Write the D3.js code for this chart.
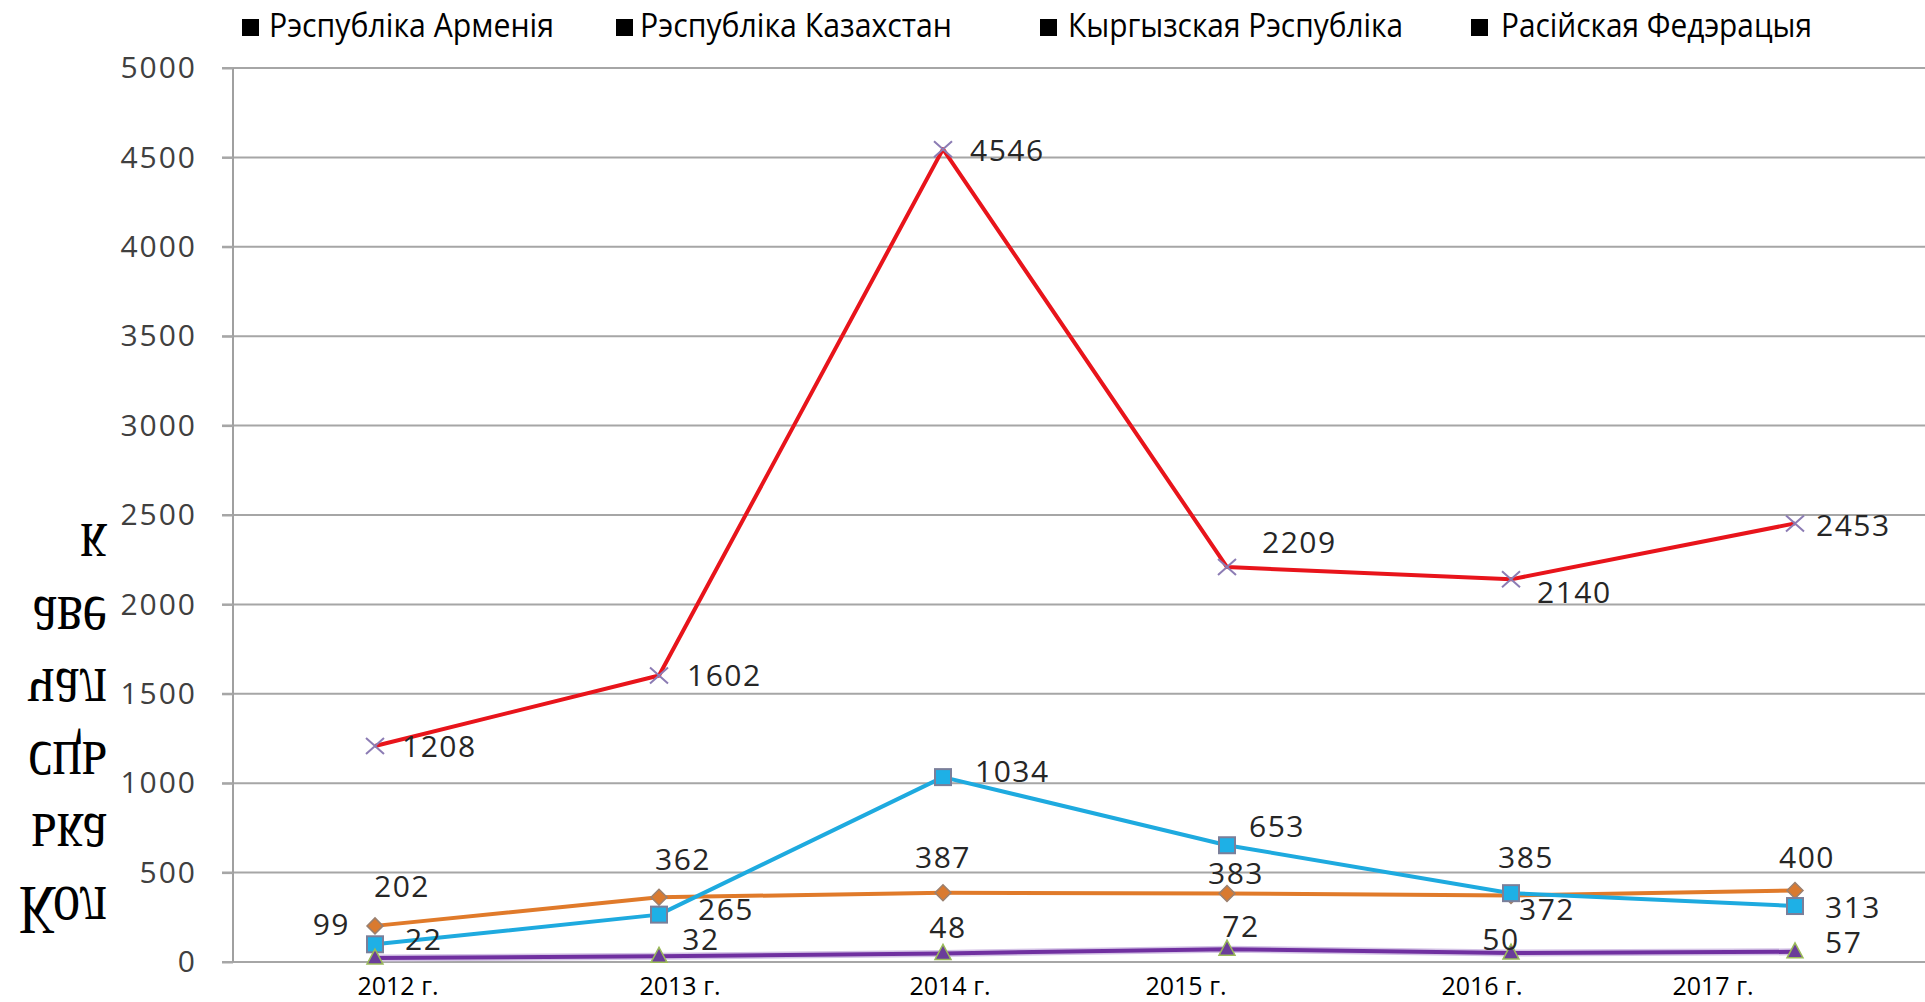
<!DOCTYPE html>
<html><head><meta charset="utf-8">
<script src="https://cdn.jsdelivr.net/npm/d3@7"></script>
<style>html,body{margin:0;padding:0;background:#fff;overflow:hidden}</style>
</head><body>
<svg id="c" width="1925" height="1002"></svg>
<script>
// ---- data ----
const years = ["2012 г.", "2013 г.", "2014 г.", "2015 г.", "2016 г.", "2017 г."];
const armenia    = [202, 362, 387, 383, 372, 400];
const kazakhstan = [99, 265, 1034, 653, 385, 313];
const kyrgyz     = [22, 32, 48, 72, 50, 57];
const russia     = [1208, 1602, 4546, 2209, 2140, 2453];
const yTicks = [0, 500, 1000, 1500, 2000, 2500, 3000, 3500, 4000, 4500, 5000];
const legendLabels = ["Рэспубліка Арменія", "Рэспубліка Казахстан", "Кыргызская Рэспубліка", "Расійская Федэрацыя"];
const yTitleLines = ["Кол", "ька", "сць", "чал", "аве", "к"];

// ---- layout (not data) ----
const L = {left: 233, top: 68, bottom: 962, bandRight: 1937};
const xLabelDx = [23, 21, 7, -41, -29, -82];
const legendX = [242, 616, 1040, 1471];
const legendTextX = [269, 640, 1068, 1501];
const legendW = [285, 312, 335, 311];
// label offsets per series: [dx, dy, anchor]
const offArm = [[27,-29,"middle"],[24,-27,"middle"],[0,-25,"middle"],[9,-10,"middle"],[8,25,"start"],[12,-22,"middle"]];
const offKaz = [[-25,-9,"end"],[39,5,"start"],[32,5,"start"],[22,-8,"start"],[15,-25,"middle"],[30,12,"start"]];
const offKyr = [[30,-8,"start"],[42,-6,"middle"],[5,-15,"middle"],[14,-12,"middle"],[-10,-3,"middle"],[30,1,"start"]];
const offRus = [[27,11,"start"],[28,10,"start"],[27,12,"start"],[35,-14,"start"],[26,24,"start"],[21,13,"start"]];

const svg = d3.select("#c");
const x = d3.scaleBand().domain(years).range([L.left, L.bandRight]);
const cx = d => x(d) + x.bandwidth() / 2;
const y = d3.scaleLinear().domain([0, 5000]).range([L.bottom, L.top]);

// gridlines
svg.append("g").selectAll("line").data(yTicks).join("line")
  .attr("x1", L.left - 11).attr("x2", 1925)
  .attr("y1", d => y(d)).attr("y2", d => y(d))
  .attr("stroke", "#a6a6a6").attr("stroke-width", 2);

// y axis
const ya = svg.append("g").attr("transform", `translate(${L.left},0)`)
  .call(d3.axisLeft(y).tickValues(yTicks).tickSize(11).tickPadding(25).tickFormat(d3.format("d")));
ya.select(".domain").attr("stroke", "#a0a0a0").attr("stroke-width", 2).attr("d", `M0,${L.top}V${L.bottom}`);
ya.selectAll(".tick line").attr("stroke", "#a6a6a6").attr("stroke-width", 2);
ya.selectAll(".tick text").attr("font-family", "'Open Sans', sans-serif").attr("font-size", 30)
  .attr("letter-spacing", 2).attr("fill", "#404040");

// x axis labels
const xa = svg.append("g").attr("transform", `translate(0,${L.bottom})`)
  .call(d3.axisBottom(x).tickSize(0).tickPadding(0));
xa.select(".domain").remove();
xa.selectAll(".tick text")
  .attr("font-family", "'Open Sans', sans-serif").attr("font-size", 25).attr("fill", "#000")
  .attr("dy", null).attr("y", 33)
  .attr("dx", (d, i) => xLabelDx[i]);

// series
const series = [
  {vals: armenia, color: "#e07a2a", w: 4, marker: "diamond", fill: "#d97a30", stroke: "#9a8070", off: offArm},
  {vals: kazakhstan, color: "#1eaadf", w: 4, marker: "square", fill: "#1eb0e6", stroke: "#7a7f9a", off: offKaz},
  {vals: kyrgyz, color: "#7030a0", w: 4, marker: "triangle", fill: "#6a3d9a", stroke: "#9bbb59", off: offKyr, halo: "#d4c3e6"},
  {vals: russia, color: "#e8141b", w: 4, marker: "cross", fill: "none", stroke: "#8c7cb4", off: offRus}
];
const line = d3.line().x((d, i) => cx(years[i])).y(d => y(d));

series.forEach(s => {
  if (s.halo) svg.append("path").datum(s.vals).attr("d", line).attr("fill", "none")
    .attr("stroke", s.halo).attr("stroke-width", s.w + 3);
  svg.append("path").datum(s.vals).attr("d", line).attr("fill", "none")
    .attr("stroke", s.color).attr("stroke-width", s.w).attr("stroke-linejoin", "round");
});
series.forEach(s => {
  const g = svg.append("g");
  s.vals.forEach((v, i) => {
    const px = cx(years[i]), py = y(v);
    if (s.marker === "square") {
      g.append("rect").attr("x", px - 8).attr("y", py - 8).attr("width", 16).attr("height", 16)
        .attr("fill", s.fill).attr("stroke", s.stroke).attr("stroke-width", 2);
    } else if (s.marker === "diamond") {
      g.append("path").attr("d", `M${px},${py-8}L${px+8},${py}L${px},${py+8}L${px-8},${py}Z`)
        .attr("fill", s.fill).attr("stroke", s.stroke).attr("stroke-width", 1.5);
    } else if (s.marker === "triangle") {
      g.append("path").attr("d", `M${px},${py-9}L${px+8},${py+6}L${px-8},${py+6}Z`)
        .attr("fill", s.fill).attr("stroke", s.stroke).attr("stroke-width", 1.5);
    } else {
      g.append("path").attr("d", `M${px-9},${py-8}L${px+9},${py+8}M${px-9},${py+8}L${px+9},${py-8}`)
        .attr("stroke", s.stroke).attr("stroke-width", 2);
    }
  });
});
// data labels
series.forEach(s => {
  svg.append("g").selectAll("text").data(s.vals).join("text")
    .attr("x", (d, i) => cx(years[i]) + s.off[i][0])
    .attr("y", (d, i) => y(d) + s.off[i][1])
    .attr("text-anchor", (d, i) => s.off[i][2])
    .attr("font-family", "'Open Sans', sans-serif").attr("font-size", 30).attr("letter-spacing", 1.5)
    .attr("fill", "#262626")
    .text(d => d);
});

// legend
const lg = svg.append("g");
legendLabels.forEach((t, i) => {
  lg.append("rect").attr("x", legendX[i]).attr("y", 19).attr("width", 17).attr("height", 17).attr("fill", "#000");
  lg.append("text").attr("x", legendTextX[i]).attr("y", 37)
    .attr("font-family", "'Open Sans', sans-serif").attr("font-size", 32).attr("fill", "#000")
    .attr("textLength", legendW[i]).attr("lengthAdjust", "spacingAndGlyphs").text(t);
});

// y title (vertically mirrored, slightly stretched)
const yt = svg.append("g");
yTitleLines.forEach((t, i) => {
  yt.append("text").attr("transform", `translate(107,${887 - i * 72.6}) scale(1,-1.25)`)
    .attr("text-anchor", "end").attr("font-family", "'Liberation Serif', serif")
    .attr("font-size", 55).attr("fill", "#000").text(t);
});
</script>
</body></html>
